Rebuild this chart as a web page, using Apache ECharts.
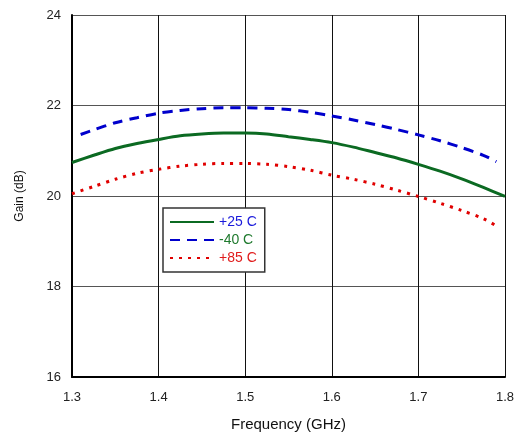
<!DOCTYPE html>
<html><head><meta charset="utf-8">
<script src="https://cdn.jsdelivr.net/npm/echarts@6/dist/echarts.min.js"></script>
<style>html,body{margin:0;padding:0;background:#fff}#c{width:514px;height:436px}</style>
</head><body><div id="c"></div>
<script>
const seriesNames = ['+25 C', '-40 C', '+85 C'];
const legendTextColors = ['#1a1adb', '#1f7a2e', '#e01b1b'];
const freq25 = [1.3,1.325,1.35,1.375,1.4,1.425,1.45,1.475,1.5,1.525,1.55,1.575,1.6,1.625,1.65,1.675,1.7,1.725,1.75,1.775,1.8];
const gain25 = [20.74,20.9,21.05,21.16,21.25,21.33,21.37,21.39,21.39,21.37,21.31,21.25,21.18,21.08,20.96,20.84,20.70,20.55,20.38,20.19,19.99];
const freqM40 = [1.31,1.325,1.35,1.375,1.4,1.425,1.45,1.475,1.5,1.525,1.55,1.575,1.6,1.625,1.65,1.675,1.7,1.725,1.75,1.775,1.79];
const gainM40 = [21.36,21.46,21.62,21.73,21.83,21.89,21.93,21.95,21.95,21.94,21.91,21.85,21.77,21.68,21.58,21.47,21.35,21.22,21.07,20.9,20.76];
const freq85 = [1.3,1.325,1.35,1.375,1.4,1.425,1.45,1.475,1.5,1.525,1.55,1.575,1.6,1.625,1.65,1.675,1.7,1.725,1.75,1.775,1.79];
const gain85 = [20.05,20.21,20.37,20.5,20.59,20.66,20.70,20.72,20.72,20.7,20.65,20.57,20.46,20.37,20.26,20.13,19.99,19.84,19.68,19.5,19.34];
const xTicks = {min: 1.3, max: 1.8, interval: 0.1};
const yTicks = {min: 16, max: 24, interval: 2};

const pair = (xs, ys) => xs.map((x, i) => [x, ys[i]]);
const chart = echarts.init(document.getElementById('c'));
const font = 'Liberation Sans, Arial, sans-serif';
chart.setOption({
  animation: false,
  backgroundColor: '#fff',
  grid: {left: 72, right: 9, top: 15, bottom: 59, containLabel: false, outerBoundsMode: 'none'},
  xAxis: {
    type: 'value', min: xTicks.min, max: xTicks.max, interval: xTicks.interval,
    name: 'Frequency (GHz)', nameLocation: 'middle', nameGap: 40,
    nameTextStyle: {fontFamily: font, fontSize: 15, color: '#111'},
    axisLine: {lineStyle: {color: '#000', width: 2}},
    axisTick: {show: false},
    axisLabel: {fontFamily: font, fontSize: 13, color: '#222', margin: 14, formatter: v => v.toFixed(1)},
    splitLine: {lineStyle: {color: '#111', width: 1}}
  },
  yAxis: {
    type: 'value', min: yTicks.min, max: yTicks.max, interval: yTicks.interval,
    name: 'Gain (dB)', nameLocation: 'middle', nameGap: 46, nameRotate: 90,
    nameTextStyle: {fontFamily: font, fontSize: 12, color: '#111'},
    axisLine: {lineStyle: {color: '#000', width: 2}},
    axisTick: {show: false},
    axisLabel: {fontFamily: font, fontSize: 13, color: '#222', margin: 11},
    splitLine: {lineStyle: {color: '#555', width: 1.2}}
  },
  legend: {
    orient: 'vertical', left: 163, top: 208,
    backgroundColor: '#fff', borderColor: '#333', borderWidth: 1.5,
    padding: [7, 8, 7, 6], itemGap: 4, itemWidth: 44, itemHeight: 14,
    itemStyle: {opacity: 0},
    textStyle: {fontFamily: font, fontSize: 14},
    data: seriesNames.map((n, i) => ({name: n, textStyle: {color: legendTextColors[i]}}))
  },
  series: [
    {name: seriesNames[0], type: 'line', data: pair(freq25, gain25), symbol: 'none', smooth: 0.3,
     lineStyle: {color: '#0b6a22', width: 3}, itemStyle: {color: '#0b6a22'}},
    {name: seriesNames[1], type: 'line', data: pair(freqM40, gainM40), symbol: 'none', smooth: 0.3,
     lineStyle: {color: '#0000cc', width: 3, type: [10, 7]}, itemStyle: {color: '#0000cc'}},
    {name: seriesNames[2], type: 'line', data: pair(freq85, gain85), symbol: 'none', smooth: 0.3,
     lineStyle: {color: '#e00000', width: 3, type: [3, 6]}, itemStyle: {color: '#e00000'}}
  ]
});
</script></body></html>
